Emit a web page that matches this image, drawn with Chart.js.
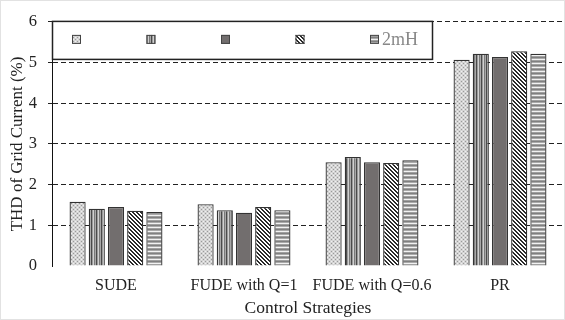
<!DOCTYPE html>
<html>
<head>
<meta charset="utf-8">
<script src="https://cdn.jsdelivr.net/npm/chart.js@4.4.0/dist/chart.umd.min.js"></script>
<style>
  html, body { margin: 0; padding: 0; background: #fff; }
  #wrap { width: 565px; height: 320px; box-sizing: border-box; border: 1px solid #e2e2e2; position: relative; }
</style>
</head>
<body>
<div id="wrap"><canvas id="thdChart"></canvas></div>
<script>
const categories = ["SUDE", "FUDE with Q=1", "FUDE with Q=0.6", "PR"];
const seriesLabels = ["", "", "", "", "2mH"];
const seriesA = [1.58, 1.52, 2.55, 5.07];
const seriesB = [1.41, 1.37, 2.68, 5.22];
const seriesC = [1.45, 1.31, 2.55, 5.14];
const seriesD = [1.36, 1.45, 2.53, 5.28];
const seriesE = [1.33, 1.37, 2.60, 5.22];
const yTicks = [0, 1, 2, 3, 4, 5, 6];

// ====== pattern fills ======
function makePattern(w, h, draw) {
  const c = document.createElement("canvas");
  c.width = w; c.height = h;
  const g = c.getContext("2d");
  draw(g);
  return document.createElement("canvas").getContext("2d").createPattern(c, "repeat");
}
const dotted = makePattern(4, 4, g => {
  g.fillStyle = "#d4d4d4"; g.fillRect(0, 0, 4, 4);
  g.fillStyle = "#9a9a9a"; g.fillRect(0, 0, 1, 1); g.fillRect(2, 2, 1, 1);
  g.fillStyle = "#f0f0f0"; g.fillRect(2, 0, 1, 1); g.fillRect(0, 2, 1, 1);
});
const vertical = makePattern(5, 1, g => {
  const cols = ["#4a4a4a", "#9a9a9a", "#d0d0d0", "#7a7a7a", "#a8a8a8"];
  cols.forEach((c, i) => { g.fillStyle = c; g.fillRect(i, 0, 1, 1); });
});
const solid = "#726e6e";
const diagonal = makePattern(4, 4, g => {
  g.fillStyle = "#fff"; g.fillRect(0, 0, 4, 4);
  g.fillStyle = "#2a2a2a";
  for (let i = 0; i < 4; i++) { g.fillRect(i, i, 1, 1); g.fillRect((i + 1) % 4, i, 1, 1); }
});
const horizontal = makePattern(1, 4, g => {
  const rows = ["#808080", "#aaaaaa", "#f2f2f2", "#a0a0a0"];
  rows.forEach((c, i) => { g.fillStyle = c; g.fillRect(0, i, 1, 1); });
});
const fills = [dotted, vertical, solid, diagonal, horizontal];
const values = [seriesA, seriesB, seriesC, seriesD, seriesE];

// ====== legend box drawn inside the plot ======
const boxLegend = {
  id: "boxLegend",
  afterDatasetsDraw(chart) {
    const { ctx, chartArea } = chart;
    const left = chartArea.left, top = chartArea.top - 1;
    const w = 380, h = 38;
    ctx.save();
    ctx.fillStyle = "#fff";
    ctx.fillRect(left, top, w, h);
    ctx.strokeStyle = "#222";
    ctx.lineWidth = 1.5;
    ctx.strokeRect(left + 0.5, top + 0.5, w, h);
    chart.data.datasets.forEach((ds, i) => {
      const x = left + 20 + i * 74.5;
      const y = top + 14;
      ctx.fillStyle = ds.backgroundColor;
      ctx.fillRect(x, y, 9, 9);
      ctx.strokeStyle = "#444";
      ctx.lineWidth = 1;
      ctx.strokeRect(x + 0.5, y + 0.5, 8, 8);
      if (ds.label) {
        ctx.fillStyle = "#888";
        ctx.font = "18px 'Liberation Serif'";
        ctx.textBaseline = "middle";
        ctx.fillText(ds.label, x + 12, y + 5);
      }
    });
    ctx.restore();
  }
};

const ctx = document.getElementById("thdChart").getContext("2d");
new Chart(ctx, {
  type: "bar",
  data: {
    labels: categories,
    datasets: values.map((v, i) => ({
      label: seriesLabels[i],
      data: v,
      backgroundColor: fills[i],
      borderColor: "#333",
      borderWidth: 1.3,
      categoryPercentage: 0.75,
      barPercentage: 0.84
    }))
  },
  options: {
    responsive: true,
    maintainAspectRatio: false,
    animation: false,
    layout: { padding: { top: 16, right: 0, bottom: 0, left: 0 } },
    plugins: { legend: { display: false }, tooltip: { enabled: false } },
    scales: {
      x: {
        grid: { display: false },
        border: { display: false },
        ticks: { color: "#222", font: { family: "Liberation Serif", size: 16 }, padding: 2 },
        title: { display: true, text: "Control Strategies", color: "#222", font: { family: "Liberation Serif", size: 17.5 }, padding: { top: 0, bottom: 0 } },
        afterFit: s => { s.height = 53; }
      },
      y: {
        min: 0,
        max: 6,
        afterBuildTicks: s => { s.ticks = yTicks.map(v => ({ value: v })); },
        ticks: { color: "#222", font: { family: "Liberation Serif", size: 16.5 }, padding: 11 },
        grid: {
          color: c => (c.tick && c.tick.value === 0 ? "rgba(0,0,0,0)" : "#222"),
          lineWidth: 1,
          tickLength: 4
        },
        border: { display: true, color: "#111", width: 1, dash: [5, 3] },
        title: { display: true, text: "THD of Grid Current (%)", color: "#222", font: { family: "Liberation Serif", size: 17 }, padding: { top: 6, bottom: 0 } },
        afterFit: s => { s.width = 51; }
      }
    }
  },
  plugins: [boxLegend]
});
</script>
</body>
</html>
